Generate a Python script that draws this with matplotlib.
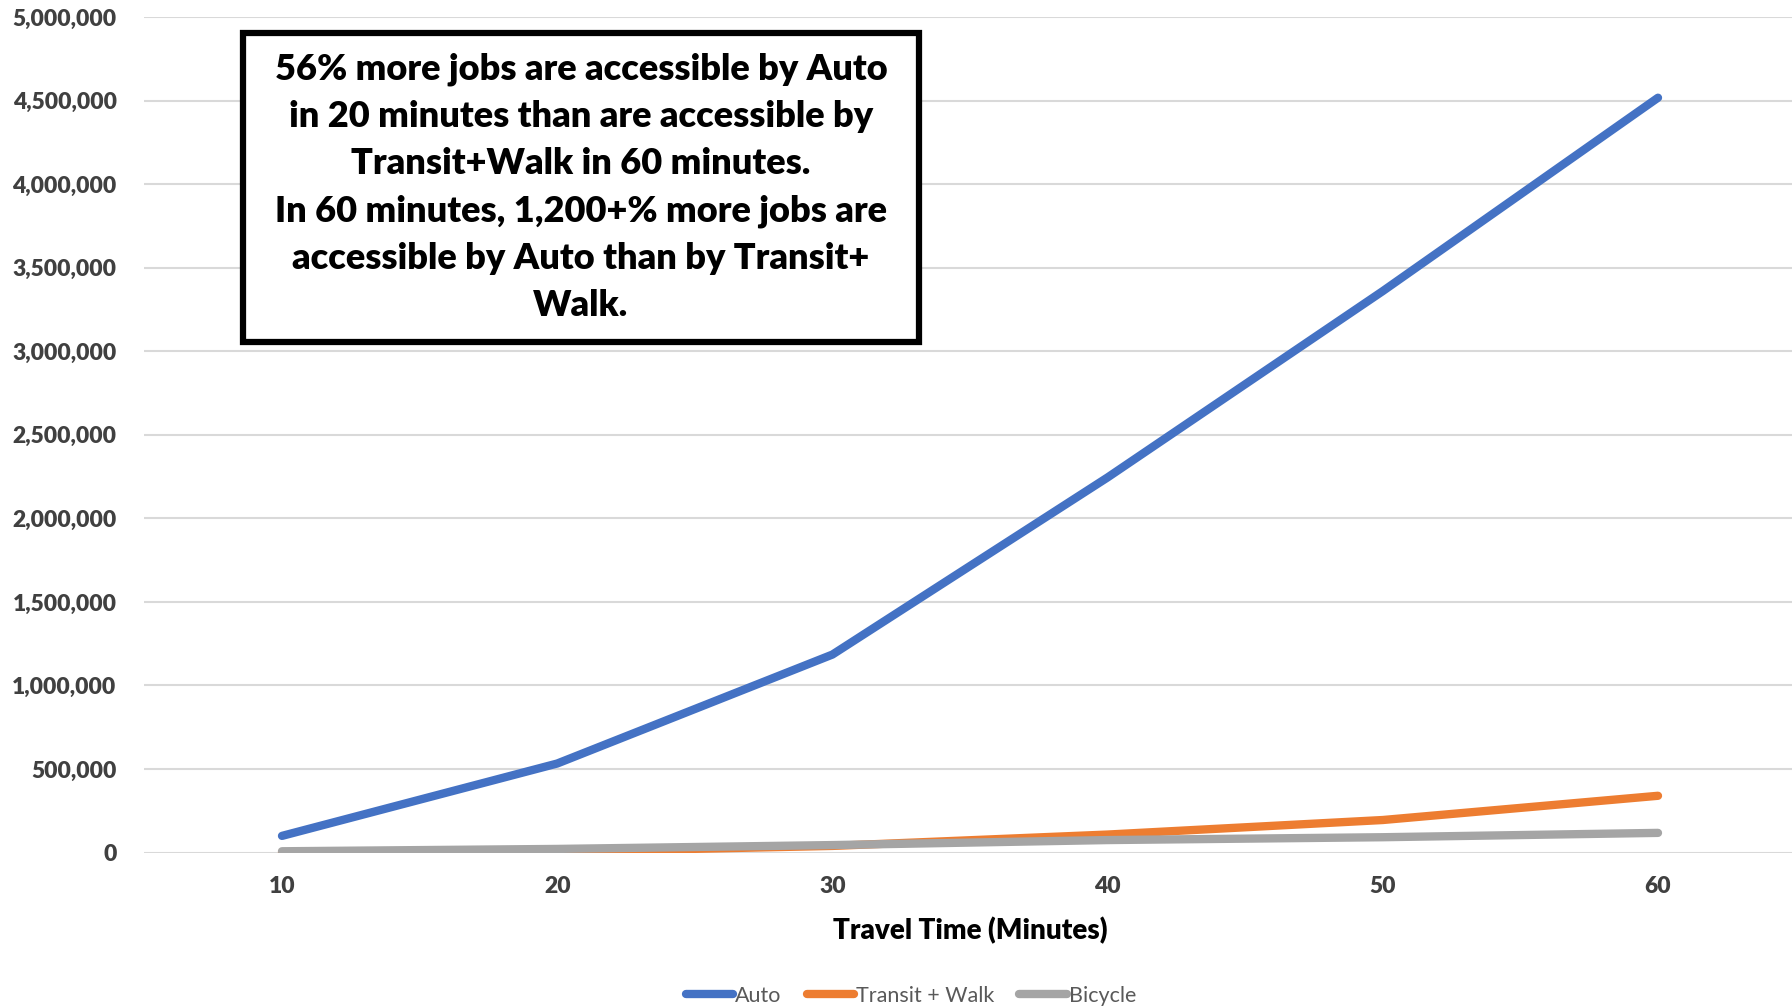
import matplotlib
matplotlib.use("Agg")
import matplotlib.pyplot as plt
from matplotlib.patches import Rectangle
from matplotlib.ticker import FuncFormatter, MultipleLocator

# Jobs reachable within each travel-time budget
travel_minutes = [10, 20, 30, 40, 50, 60]
auto_jobs = [100000, 533000, 1185000, 2245000, 3360000, 4517000]
transit_walk_jobs = [1000, 5000, 40000, 108000, 195000, 340000]
bicycle_jobs = [8000, 22000, 45000, 75000, 92000, 118000]

series_names = ["Auto", "Transit + Walk", "Bicycle"]
series_colors = ["#4472C4", "#ED7D31", "#A5A5A5"]

x_title = "Travel Time (Minutes)"
callout_lines = [
    "56% more jobs are accessible by Auto",
    "in 20 minutes than are accessible by",
    "Transit+Walk in 60 minutes.",
    "In 60 minutes, 1,200+% more jobs are",
    "accessible by Auto than by Transit+",
    "Walk.",
]

plt.rcParams["font.family"] = ["Lato", "DejaVu Sans"]
HEAVY = "heavy"

W, H = 1792, 1006
fig = plt.figure(figsize=(W / 100, H / 100), dpi=100)
fig.patch.set_facecolor("white")

left_px, right_px = 144.4, 1795.6
top_px, bottom_px = 17.0, 852.6
ax = fig.add_axes([left_px / W, 1 - bottom_px / H,
                   (right_px - left_px) / W, (bottom_px - top_px) / H])

for vals, name, col in zip([auto_jobs, transit_walk_jobs, bicycle_jobs],
                           series_names, series_colors):
    ax.plot(travel_minutes, vals, color=col, lw=6, label=name,
            solid_capstyle="round", solid_joinstyle="round", zorder=3)

ax.set_xlim(5, 65)
ax.set_ylim(0, 5000000)
ax.set_xticks(travel_minutes)
ax.yaxis.set_major_locator(MultipleLocator(500000))
ax.yaxis.set_major_formatter(FuncFormatter(lambda v, p: f"{int(v):,}"))

ax.grid(axis="y", color="#d9d9d9", lw=1.5, zorder=0)
ax.set_axisbelow(True)
for s in ax.spines.values():
    s.set_visible(False)
ax.tick_params(axis="both", length=0, labelsize=16.5, labelcolor="#404040")
ax.tick_params(axis="y", pad=20)
ax.tick_params(axis="x", pad=17)
for lab in ax.get_xticklabels() + ax.get_yticklabels():
    lab.set_fontweight(HEAVY)

ax.set_xlabel(x_title, fontsize=20, fontweight=HEAVY, color="black", labelpad=14)

leg = fig.legend(loc="center", bbox_to_anchor=(911 / W, 1 - 996 / H),
                 ncol=3, frameon=False, fontsize=15.5, handlelength=2.2,
                 handletextpad=0.1, columnspacing=1.15)
for t in leg.get_texts():
    t.set_color("#595959")
for h in leg.legend_handles:
    h.set_linewidth(6)
    h.set_solid_capstyle("round")

# Callout box with summary text
bx0, by0, bx1, by1 = 243, 33, 919, 342
fig.patches.append(Rectangle((bx0 / W, 1 - by1 / H), (bx1 - bx0) / W, (by1 - by0) / H,
                             transform=fig.transFigure, facecolor="white",
                             edgecolor="black", lw=4.5, zorder=5))
fig.text(581 / W, 1 - 187 / H, "\n".join(callout_lines), ha="center", va="center",
         fontsize=26, fontweight=HEAVY, color="black", linespacing=1.52, zorder=6)

fig.savefig("out.png", dpi=100, facecolor="white")
